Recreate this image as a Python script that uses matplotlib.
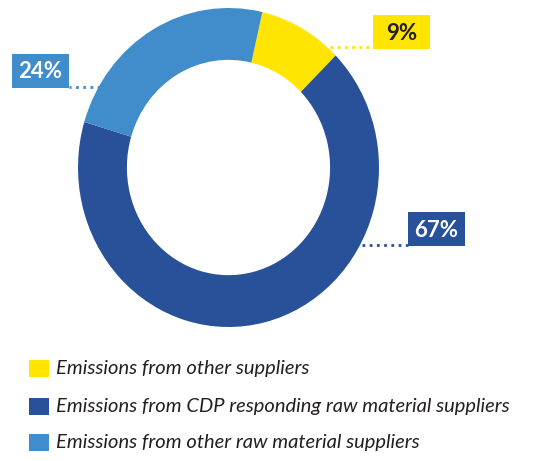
import matplotlib.pyplot as plt
from matplotlib.patches import Rectangle

# shares of supplier emissions, clockwise from the top
labels = ['Emissions from other suppliers',
          'Emissions from CDP responding raw material suppliers',
          'Emissions from other raw material suppliers']
shares = [9, 67, 24]
pct_labels = ['9%', '67%', '24%']
colors = ['#FFE500', '#28519A', '#418CCA']
pct_text_colors = ['#231F20', 'white', 'white']

W, H = 555, 461
fig = plt.figure(figsize=(W / 100, H / 100), dpi=100)

## donut axes (slightly taller than wide, like the original)
pie_ax = fig.add_axes([78 / W, 1 - 327 / H, 301 / W, 319 / H])
wedges, _ = pie_ax.pie(shares, colors=colors, startangle=77, counterclock=False,
                       radius=1, wedgeprops=dict(width=0.325, linewidth=0))
pie_ax.set_aspect('auto')
pie_ax.set_xlim(-1, 1)
pie_ax.set_ylim(-1, 1)
pie_ax.axis('off')

## overlay axes in pixel coords for callouts and legend
ov = fig.add_axes([0, 0, 1, 1])
ov.set_xlim(0, W)
ov.set_ylim(H, 0)
ov.axis('off')

## callout boxes: (box x0, y0, x1, y1), leader line (x0, x1, y)
boxes = [(373, 15, 430, 49), (408, 212, 465, 246), (12, 54, 69, 88)]
leaders = [(330, 373, 46.7), (362, 408, 245), (100, 69, 86.7)]
for i in range(3):
    x0, y0, x1, y1 = boxes[i]
    ov.add_patch(Rectangle((x0, y0), x1 - x0, y1 - y0, color=colors[i], lw=0))
    ov.text((x0 + x1) / 2, (y0 + y1) / 2 + 1, pct_labels[i], ha='center', va='center',
            color=pct_text_colors[i], fontsize=16, fontweight='bold', family='Lato')
    lx0, lx1, ly = leaders[i]
    ov.plot([lx0, lx1], [ly, ly], color=colors[i], lw=2, linestyle=(0, (1, 1.6)))

## legend
leg_y = [368.5, 406, 442]
for i in range(3):
    ov.add_patch(Rectangle((29, leg_y[i] - 8.5), 20, 17, color=colors[i], lw=0))
    ov.text(56, leg_y[i], labels[i], ha='left', va='center', color='#231F20',
            fontsize=14.5, fontstyle='italic', family='Lato')

fig.savefig('out.png', dpi=100)
